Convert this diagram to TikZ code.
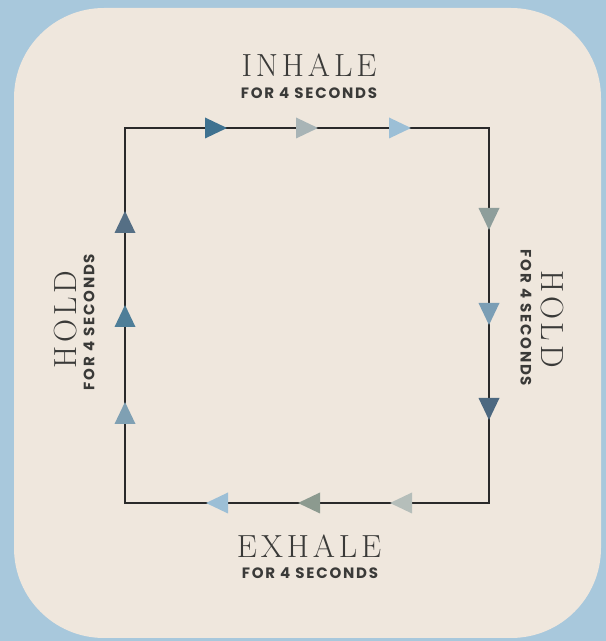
\documentclass[tikz,border=0pt]{standalone}
\usepackage{fontspec}
\setmainfont{Latin Modern Roman}
\newfontfamily\labelfont{Poppins}
\definecolor{skyblue}{HTML}{A8C8DC}
\definecolor{cream}{HTML}{EFE7DD}
\definecolor{ink}{HTML}{2A2A2A}
\definecolor{textgrey}{HTML}{3A3A38}
\definecolor{deepteal}{HTML}{3F7290}
\definecolor{mist}{HTML}{A8B4B6}
\definecolor{paleblue}{HTML}{9CBFD6}
\definecolor{sage}{HTML}{8E9E9B}
\definecolor{steel}{HTML}{7B9EB5}
\definecolor{slate}{HTML}{4C6880}
\definecolor{fog}{HTML}{B5BEBA}
\definecolor{moss}{HTML}{8C9A8F}
\definecolor{dusk}{HTML}{7FA0B3}
\definecolor{lagoon}{HTML}{4E7E98}
\definecolor{harbor}{HTML}{556F85}
\begin{document}
\begin{tikzpicture}[x=1pt,y=1pt,
    phase/.style={font=\fontsize{32}{32}\selectfont\addfontfeature{LetterSpace=12}, text=textgrey, inner sep=0pt},
    timing/.style={font=\labelfont\bfseries\fontsize{15}{15}\selectfont\addfontfeature{LetterSpace=12}, text=textgrey, inner sep=0pt},
    head/.pic={\fill (11,0) -- (-11,10.5) -- (-11,-10.5) -- cycle;}]
        %% card
        \fill[skyblue] (0,0) rectangle (606,641);
        \fill[cream,rounded corners=90pt] (14,3) rectangle (601,633);
        %% box
        \coordinate (tl) at (125,513);
        \coordinate (tr) at (489,513);
        \coordinate (br) at (489,138);
        \coordinate (bl) at (125,138);
        \draw[ink,line width=2.5pt] (tl) -- (tr) -- (br) -- (bl) -- cycle;
        %% arrowheads
        \foreach \x/\c in {216/deepteal,307/mist,400/paleblue} \pic[fill=\c] at (\x,513) {head};
        \foreach \y/\c in {422/sage,327/steel,232/slate} \pic[fill=\c,rotate=-90] at (489,\y) {head};
        \foreach \x/\c in {401/fog,309/moss,217/paleblue} \pic[fill=\c,rotate=180] at (\x,138) {head};
        \foreach \y/\c in {228/dusk,325/lagoon,419/harbor} \pic[fill=\c,rotate=90] at (125,\y) {head};
        %% labels
        \node[phase] (inhale) at (309,576) {INHALE};
        \node[timing] (inhaletime) at (309,548) {FOR 4 SECONDS};
        \node[phase] (exhale) at (309,95) {EXHALE};
        \node[timing] (exhaletime) at (310,68) {FOR 4 SECONDS};
        \node[phase,rotate=90] (holdin) at (66,321) {HOLD};
        \node[timing,rotate=90] (holdintime) at (89,319) {FOR 4 SECONDS};
        \node[phase,rotate=-90] (holdout) at (552,322) {HOLD};
        \node[timing,rotate=-90] (holdouttime) at (526,323) {FOR 4 SECONDS};
    \end{tikzpicture}
\end{document}
